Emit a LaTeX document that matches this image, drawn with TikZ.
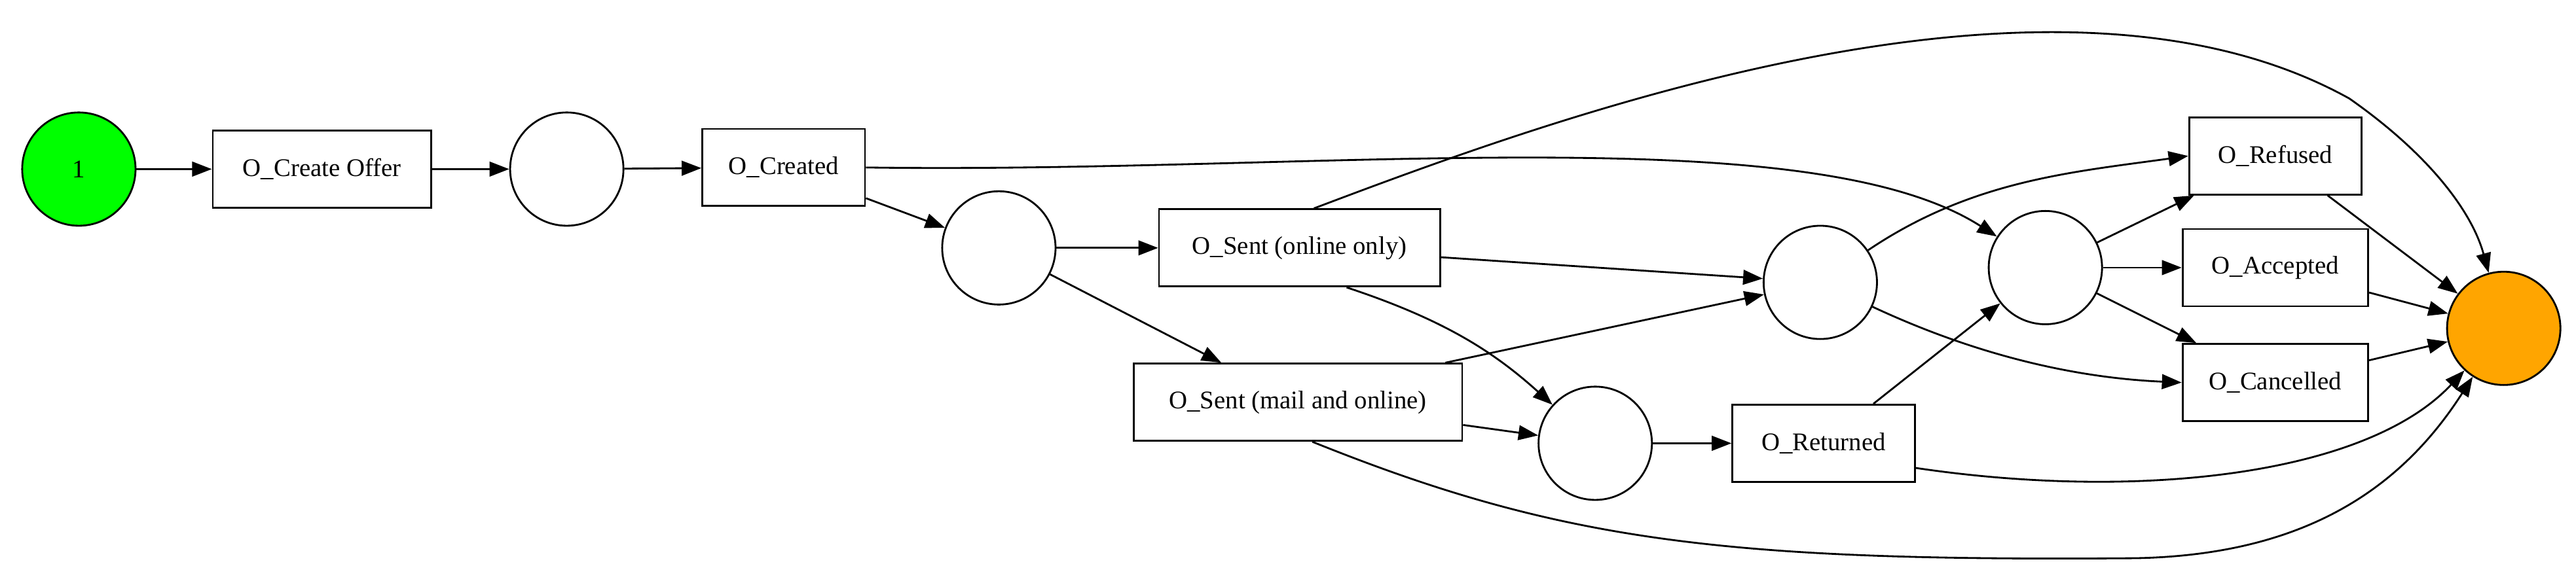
\documentclass[tikz,border=0pt]{standalone}
\usepackage{fontspec}
\setmainfont{Liberation Serif}
\usetikzlibrary{arrows.meta}
\begin{document}
\begin{tikzpicture}[x=0.05cm,y=-0.05cm,
  every node/.style={font=\fontsize{22}{26}\selectfont},
  pl/.style={circle,draw,line width=1.6pt,minimum size=3.45cm,inner sep=0pt},
  tr/.style={rectangle,draw,line width=1.6pt,minimum height=2.35cm,inner sep=2pt},
  ar/.style={line width=1.6pt,-{Triangle[length=0.6cm,width=0.45cm]}}]
\useasboundingbox (0,0) rectangle (1568,356);
\node[pl,fill={rgb,255:red,0;green,255;blue,0}] (s) at (48,103) {1};
\node[tr,minimum width=6.65cm] (co) at (196,103) {O\_Create Offer};
\node[pl] (p1) at (345,103) {};
\node[tr,minimum width=4.95cm] (cr) at (477,102) {O\_Created};
\node[pl] (p2) at (608,151) {};
\node[tr,minimum width=8.55cm] (so) at (791,151) {O\_Sent (online only)};
\node[tr,minimum width=10cm] (sm) at (790,245) {O\_Sent (mail and online)};
\node[pl] (p3) at (1108,172) {};
\node[pl] (p4) at (1245,163) {};
\node[pl] (p5) at (971,270) {};
\node[tr,minimum width=5.55cm] (re) at (1110,270) {O\_Returned};
\node[tr,minimum width=5.25cm] (rf) at (1385,95) {O\_Refused};
\node[tr,minimum width=5.65cm] (ac) at (1385,163) {O\_Accepted};
\node[tr,minimum width=5.65cm] (ca) at (1385,233) {O\_Cancelled};
\node[pl,fill={rgb,255:red,255;green,165;blue,0}] (f) at (1524,200) {};
\draw[ar] (s) -- (co);
\draw[ar] (co) -- (p1);
\draw[ar] (p1) -- (cr);
\draw[ar] (cr) -- (p2);
\draw[ar] (cr.east) .. controls (800,106) and (1100,70) .. (p4);
\draw[ar] (p2) -- (so);
\draw[ar] (p2) -- (sm);
\draw[ar] (so.70) .. controls (950,70) and (1250,-40) .. (1430,60) .. controls (1480,95) and (1505,130) .. (f);
\draw[ar] (so) -- (p3);
\draw[ar] (so.-40) .. controls (880,195) and (910,215) .. (p5);
\draw[ar] (sm.15) -- (p3);
\draw[ar] (sm) -- (p5);
\draw[ar] (sm.-70) .. controls (950,330) and (1050,342) .. (1300,340) .. controls (1400,338) and (1460,300) .. (f);
\draw[ar] (p5) -- (re);
\draw[ar] (re) -- (p4);
\draw[ar] (re.-15) .. controls (1300,305) and (1440,290) .. (f);
\draw[ar] (p3) .. controls (1200,110) and (1260,105) .. (rf.west);
\draw[ar] (p3) .. controls (1200,215) and (1260,230) .. (ca.west);
\draw[ar] (p4) -- (rf);
\draw[ar] (p4) -- (ac);
\draw[ar] (p4) -- (ca);
\draw[ar] (rf) -- (f);
\draw[ar] (ac) -- (f);
\draw[ar] (ca) -- (f);
\end{tikzpicture}
\end{document}
